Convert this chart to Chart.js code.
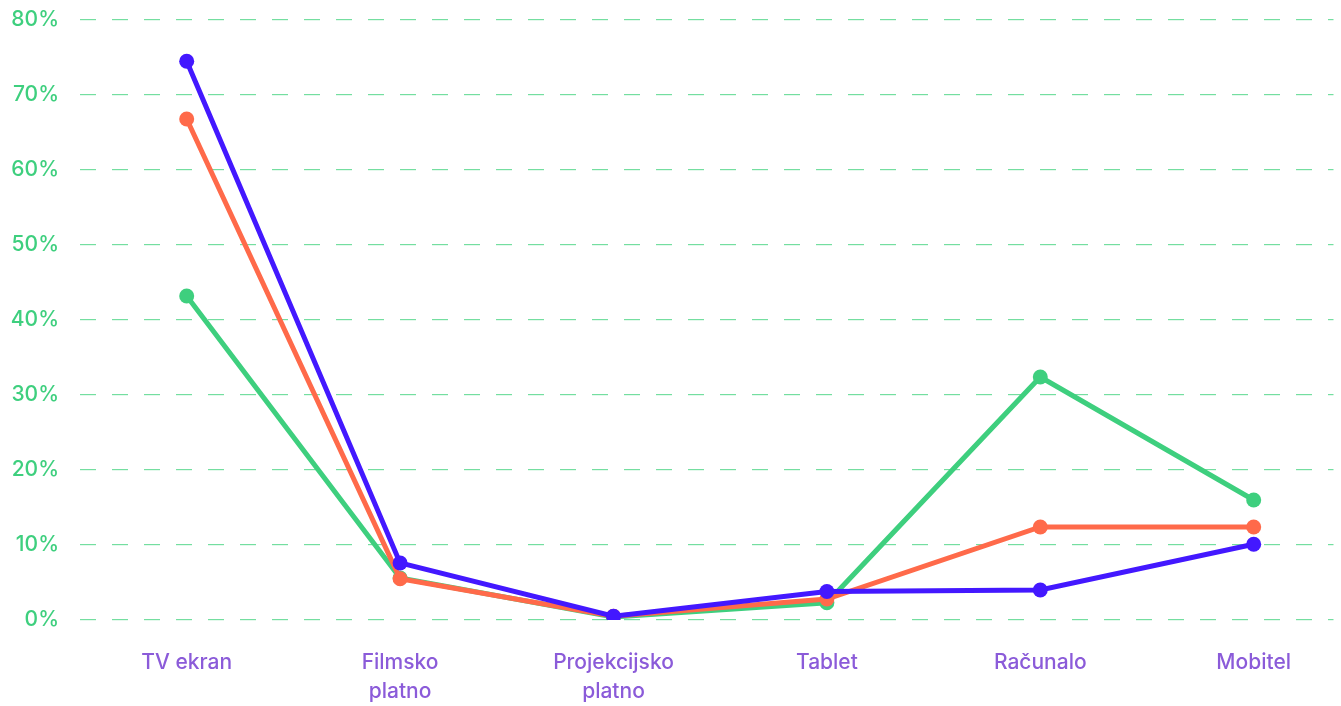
<!DOCTYPE html>
<html>
<head>
<meta charset="utf-8">
<script src="https://cdn.jsdelivr.net/npm/chart.js@4"></script>
<style>
html,body{margin:0;padding:0;background:#fff;overflow:hidden;}
#wrap{width:1341px;height:706px;}
</style>
</head>
<body>
<div id="wrap"><canvas id="c" width="1341" height="706"></canvas></div>
<script>
const categories = [['TV ekran'], ['Filmsko', 'platno'], ['Projekcijsko', 'platno'], ['Tablet'], ['Računalo'], ['Mobitel']];
const greenValues  = [43.2, 5.6, 0.4, 2.3, 32.4, 16.0];
const orangeValues = [66.8, 5.5, 0.5, 2.8, 12.4, 12.4];
const blueValues   = [74.5, 7.6, 0.5, 3.8, 4.0, 10.1];
const yTicks = [0, 10, 20, 30, 40, 50, 60, 70, 80];

const GREEN = '#3ecf7e', ORANGE = '#ff6a4a', BLUE = '#4318ff';
const toPts = arr => arr.map((v, i) => ({x: i, y: v}));
const mk = (data, color, order) => ({
  data: toPts(data), borderColor: color, backgroundColor: color,
  borderWidth: 5, pointRadius: 7.5, pointHoverRadius: 7.5, pointBorderWidth: 0,
  tension: 0, order: order
});

new Chart(document.getElementById('c'), {
  type: 'line',
  data: {
    datasets: [
      mk(blueValues, BLUE, 1),
      mk(orangeValues, ORANGE, 2),
      mk(greenValues, GREEN, 3)
    ]
  },
  options: {
    responsive: false,
    animation: false,
    layout: {padding: 0},
    plugins: {legend: {display: false}, tooltip: {enabled: false}},
    scales: {
      x: {
        type: 'linear',
        min: -0.5,
        max: 5.374,
        afterBuildTicks: s => { s.ticks = categories.map((_, i) => ({value: i})); },
        afterFit: s => { s.height = 86; s.paddingLeft = 0; s.paddingRight = 0; },
        grid: {display: false, drawTicks: false},
        border: {display: false},
        ticks: {
          autoSkip: false, maxRotation: 0, padding: 29,
          color: '#8b5bd9',
          font: {family: 'Inter', size: 21, weight: '500', lineHeight: 1.35},
          callback: (v) => categories[v] || ''
        }
      },
      y: {
        min: 0, max: 80,
        afterBuildTicks: s => { s.ticks = yTicks.map(v => ({value: v})); },
        afterFit: s => { s.width = 80; s.paddingTop = 20; s.paddingBottom = 0; },
        border: {display: false, dash: [16, 16]},
        grid: {color: '#74dea0', lineWidth: 1.2, drawTicks: false},
        ticks: {
          padding: 21, color: '#3ecf7e',
          font: {family: 'Inter', size: 21, weight: '500'},
          callback: v => v + '%'
        }
      }
    }
  }
});
</script>
</body>
</html>
